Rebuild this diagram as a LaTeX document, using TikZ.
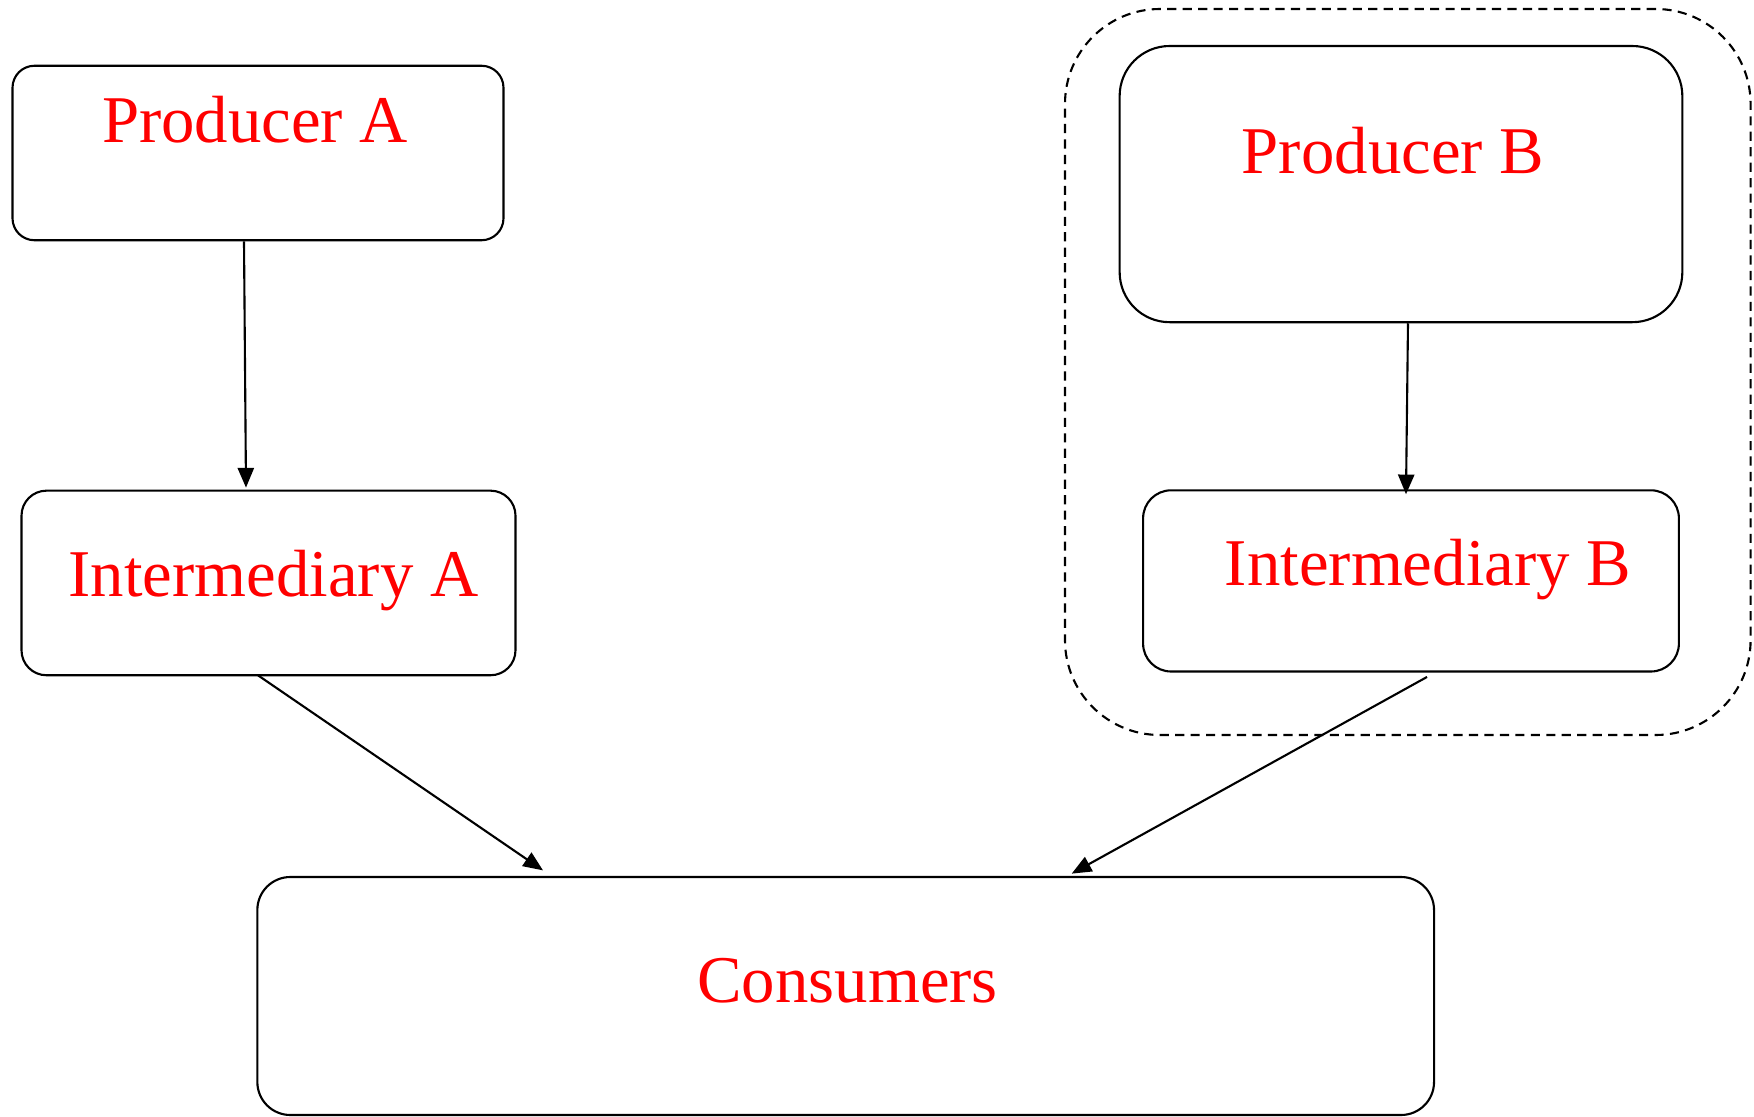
\documentclass[tikz,border=0pt]{standalone}
\usepackage{fontspec}
\setmainfont{Liberation Serif}
\usetikzlibrary{arrows.meta, positioning}
\tikzset{
  >={Triangle[length=5.6pt,width=4.6pt]},
  box/.style={draw, line width=0.6pt, rounded corners=#1},
  box/.default=7pt,
  txt/.style={text=red, font=\fontsize{19}{23}\selectfont},
  group/.style={draw, line width=0.6pt, dash pattern=on 2.6pt off 1.8pt, rounded corners=27pt},
  link/.style={->, line width=0.6pt}
}

\begin{document}
\begin{tikzpicture}
    \useasboundingbox (0,0) rectangle (17.54,11.16);

    \node[box=0.22cm, minimum width=4.91cm, minimum height=1.745cm,
      label={[txt, xshift=-0.03cm, yshift=0.33cm]center:Producer A}] (prodA) at (2.58,9.63) {};
    \node[box=0.25cm, minimum width=4.94cm, minimum height=1.846cm,
      label={[txt, xshift=0.05cm, yshift=0.02cm]center:Intermediary A}] (interA)
      [below=2.483cm of prodA.south, xshift=0.105cm] {};

    \node[group, minimum width=6.856cm, minimum height=7.26cm] (groupB) at (14.078,7.44) {};
    \node[box=0.5cm, minimum width=5.627cm, minimum height=2.762cm,
      label={[txt, xshift=-0.08cm, yshift=0.33cm]center:Producer B}] (prodB) at (14.01,9.319) {};
    \node[box=0.28cm, minimum width=5.358cm, minimum height=1.812cm,
      label={[txt, xshift=0.17cm, yshift=0.11cm]center:Intermediary B}] (interB)
      [below=1.66cm of prodB.south, xshift=0.1cm] {};

    \node[box=0.33cm, minimum width=11.767cm, minimum height=2.38cm,
      label={[txt, xshift=0.02cm, yshift=0.15cm]center:Consumers}] (cons) at (8.457,1.2) {};

    % flows
    \draw[link] ([xshift=-0.14cm]prodA.south) -- ([xshift=-0.225cm, yshift=0.02cm]interA.north);
    \draw[link] ([xshift=0.07cm]prodB.south) -- ([xshift=-0.05cm, yshift=-0.05cm]interB.north);
    \draw[link] ([xshift=-0.105cm, yshift=0.01cm]interA.south) -- ([xshift=-3.027cm, yshift=0.056cm]cons.north);
    \draw[link] ([xshift=0.16cm, yshift=-0.044cm]interB.south) -- ([xshift=2.26cm, yshift=0.023cm]cons.north);
\end{tikzpicture}
\end{document}
